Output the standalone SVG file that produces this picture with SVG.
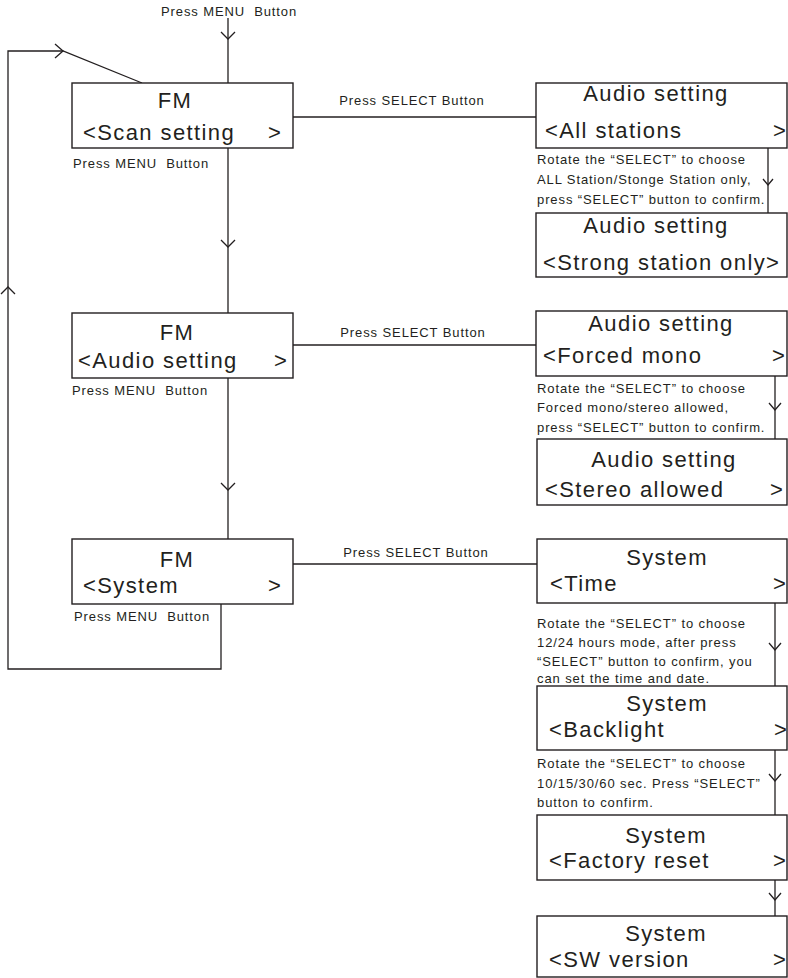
<svg xmlns="http://www.w3.org/2000/svg" width="788" height="978" viewBox="0 0 788 978">
<style>
rect.box{fill:#fff;stroke:#231f20;stroke-width:1.4}
.ln{fill:none;stroke:#231f20;stroke-width:1.3}
.big{font-family:"Liberation Sans",Arial,sans-serif;font-size:22px;letter-spacing:1.4px;fill:#231f20}
.sm{font-family:"Liberation Sans",Arial,sans-serif;font-size:13px;letter-spacing:0.9px;fill:#231f20}
.mid{text-anchor:middle}
</style>
<rect width="788" height="978" fill="#fff"/>
<g id="connectors">
  <path class="ln" d="M228,18 V83"/>
  <path class="ln" d="M221,32 L228,39 L235,32"/>
  <path class="ln" d="M228,148 V313"/>
  <path class="ln" d="M221,240 L228,247 L235,240"/>
  <path class="ln" d="M228,378 V539"/>
  <path class="ln" d="M221,483 L228,490 L235,483"/>
  <path class="ln" d="M221,604 V669 H8 V51 H63 L142,83"/>
  <path class="ln" d="M1,294 L8,287 L15,294"/>
  <path class="ln" d="M55,44 L63,51 L55,58"/>
  <path class="ln" d="M293,117 H536"/>
  <path class="ln" d="M293,345 H536"/>
  <path class="ln" d="M293,564 H537"/>
  <path class="ln" d="M768,148 V213"/>
  <path class="ln" d="M763,179 L768,185 L773,179"/>
  <path class="ln" d="M775,376 V439"/>
  <path class="ln" d="M769,403 L775,410 L781,403"/>
  <path class="ln" d="M775,603 V686"/>
  <path class="ln" d="M769,643 L775,650 L781,643"/>
  <path class="ln" d="M775,750 V815"/>
  <path class="ln" d="M769,774 L775,781 L781,774"/>
  <path class="ln" d="M775,880 V916"/>
  <path class="ln" d="M769,893 L775,900 L781,893"/>
  <text class="sm" x="161" y="16" xml:space="preserve">Press MENU  Button</text>
  <text class="sm" x="73" y="168" xml:space="preserve">Press MENU  Button</text>
  <text class="sm" x="72" y="395" xml:space="preserve">Press MENU  Button</text>
  <text class="sm" x="74" y="621" xml:space="preserve">Press MENU  Button</text>
  <text class="sm mid" x="412" y="105">Press SELECT Button</text>
  <text class="sm mid" x="413" y="337">Press SELECT Button</text>
  <text class="sm mid" x="416" y="557">Press SELECT Button</text>
  <text class="sm" x="537" y="164">Rotate the “SELECT” to choose</text>
  <text class="sm" x="537" y="184">ALL Station/Stonge Station only,</text>
  <text class="sm" x="537" y="204">press “SELECT” button to confirm.</text>
  <text class="sm" x="537" y="393">Rotate the “SELECT” to choose</text>
  <text class="sm" x="537" y="412">Forced mono/stereo allowed,</text>
  <text class="sm" x="537" y="432">press “SELECT” button to confirm.</text>
  <text class="sm" x="537" y="628">Rotate the “SELECT” to choose</text>
  <text class="sm" x="537" y="647">12/24 hours mode, after press</text>
  <text class="sm" x="537" y="666">“SELECT” button to confirm, you</text>
  <text class="sm" x="537" y="683">can set the time and date.</text>
  <text class="sm" x="537" y="768">Rotate the “SELECT” to choose</text>
  <text class="sm" x="537" y="788">10/15/30/60 sec. Press “SELECT”</text>
  <text class="sm" x="537" y="807">button to confirm.</text>
</g>
<g id="fm-scan">
  <rect class="box" x="72" y="83" width="221" height="65"/>
  <text class="big mid" x="175" y="108">FM</text>
  <text class="big" x="83" y="140">&lt;Scan setting</text>
  <text class="big" x="268" y="140">&gt;</text>
</g>
<g id="fm-audio">
  <rect class="box" x="72" y="313" width="221" height="65"/>
  <text class="big mid" x="177" y="340">FM</text>
  <text class="big" x="78" y="368">&lt;Audio setting</text>
  <text class="big" x="274" y="368">&gt;</text>
</g>
<g id="fm-system">
  <rect class="box" x="72" y="539" width="221" height="65"/>
  <text class="big mid" x="177" y="567">FM</text>
  <text class="big" x="83" y="593">&lt;System</text>
  <text class="big" x="268" y="593">&gt;</text>
</g>
<g id="audio-all">
  <rect class="box" x="536" y="83" width="251" height="65"/>
  <text class="big mid" x="656" y="101">Audio setting</text>
  <text class="big" x="545" y="138">&lt;All stations</text>
  <text class="big" x="773" y="138">&gt;</text>
</g>
<g id="audio-strong">
  <rect class="box" x="536" y="213" width="251" height="64"/>
  <text class="big mid" x="656" y="233">Audio setting</text>
  <text class="big" x="543" y="270">&lt;Strong station only&gt;</text>
</g>
<g id="audio-forced">
  <rect class="box" x="536" y="311" width="251" height="65"/>
  <text class="big mid" x="661" y="331">Audio setting</text>
  <text class="big" x="543" y="363">&lt;Forced mono</text>
  <text class="big" x="772" y="363">&gt;</text>
</g>
<g id="audio-stereo">
  <rect class="box" x="537" y="439" width="250" height="66"/>
  <text class="big mid" x="664" y="467">Audio setting</text>
  <text class="big" x="545" y="497">&lt;Stereo allowed</text>
  <text class="big" x="770" y="497">&gt;</text>
</g>
<g id="sys-time">
  <rect class="box" x="537" y="539" width="250" height="64"/>
  <text class="big mid" x="667" y="565">System</text>
  <text class="big" x="550" y="591">&lt;Time</text>
  <text class="big" x="773" y="591">&gt;</text>
</g>
<g id="sys-backlight">
  <rect class="box" x="537" y="686" width="250" height="64"/>
  <text class="big mid" x="667" y="711">System</text>
  <text class="big" x="549" y="737">&lt;Backlight</text>
  <text class="big" x="774" y="737">&gt;</text>
</g>
<g id="sys-factory">
  <rect class="box" x="537" y="815" width="250" height="65"/>
  <text class="big mid" x="666" y="843">System</text>
  <text class="big" x="549" y="868">&lt;Factory reset</text>
  <text class="big" x="773" y="868">&gt;</text>
</g>
<g id="sys-sw">
  <rect class="box" x="537" y="916" width="250" height="61"/>
  <text class="big mid" x="666" y="941">System</text>
  <text class="big" x="549" y="967">&lt;SW version</text>
  <text class="big" x="773" y="967">&gt;</text>
</g>
</svg>
